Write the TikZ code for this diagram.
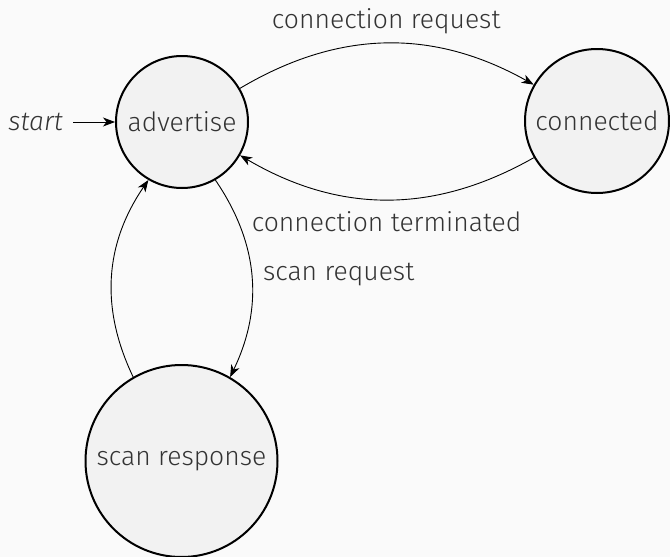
\documentclass[tikz,border=0pt]{standalone}
\usepackage{fontspec}
\setmainfont{Fira Sans}[UprightFont={* Light}, ItalicFont={* Light Italic}]
\usetikzlibrary{arrows.meta}
\definecolor{bgcol}{HTML}{FAFAFA}
\definecolor{statefill}{HTML}{F2F2F2}
\definecolor{ink}{HTML}{333333}
\begin{document}
\begin{tikzpicture}[x=1pt, y=-1pt,
  font=\fontsize{26.5}{32}\selectfont,
  state/.style={circle, draw=black, line width=2pt, fill=statefill, text=ink, inner sep=2pt},
  trans/.style={-{Stealth[length=12pt, width=9pt, inset=3.5pt]}, line width=0.9pt, draw=black},
  lbl/.style={text=ink, inner sep=0pt}]
  % page background and fixed frame
  \fill[bgcol] (0,0) rectangle (670,557);
  \useasboundingbox (0,0) rectangle (670,557);

  % states
  \node[state, minimum size=132pt] (adv)  at (182,122)   {advertise};
  \node[state, minimum size=144pt] (con)  at (597,121)   {connected};
  \node[state, minimum size=192pt] (scan) at (181.5,461) {scan response};

  % initial marker
  \node[lbl, font=\fontsize{26.5}{32}\selectfont\itshape, anchor=east] (start) at (63,122) {start};
  \coordinate (s0) at (73,122);
  \draw[trans] (s0) -- (adv);

  % transitions
  \draw[trans] (adv) to[bend left=30]
    node[lbl, midway, anchor=base, yshift=15pt] {connection request} (con);
  \draw[trans] (con) to[bend left=30]
    node[lbl, midway, anchor=base, yshift=-32pt] {connection terminated} (adv);
  \draw[trans] (adv) to[bend left=30]
    node[lbl, midway, anchor=base west, xshift=11pt, yshift=-4pt] {scan request} (scan);
  \draw[trans] (scan) to[bend left=30] (adv);
\end{tikzpicture}
\end{document}
